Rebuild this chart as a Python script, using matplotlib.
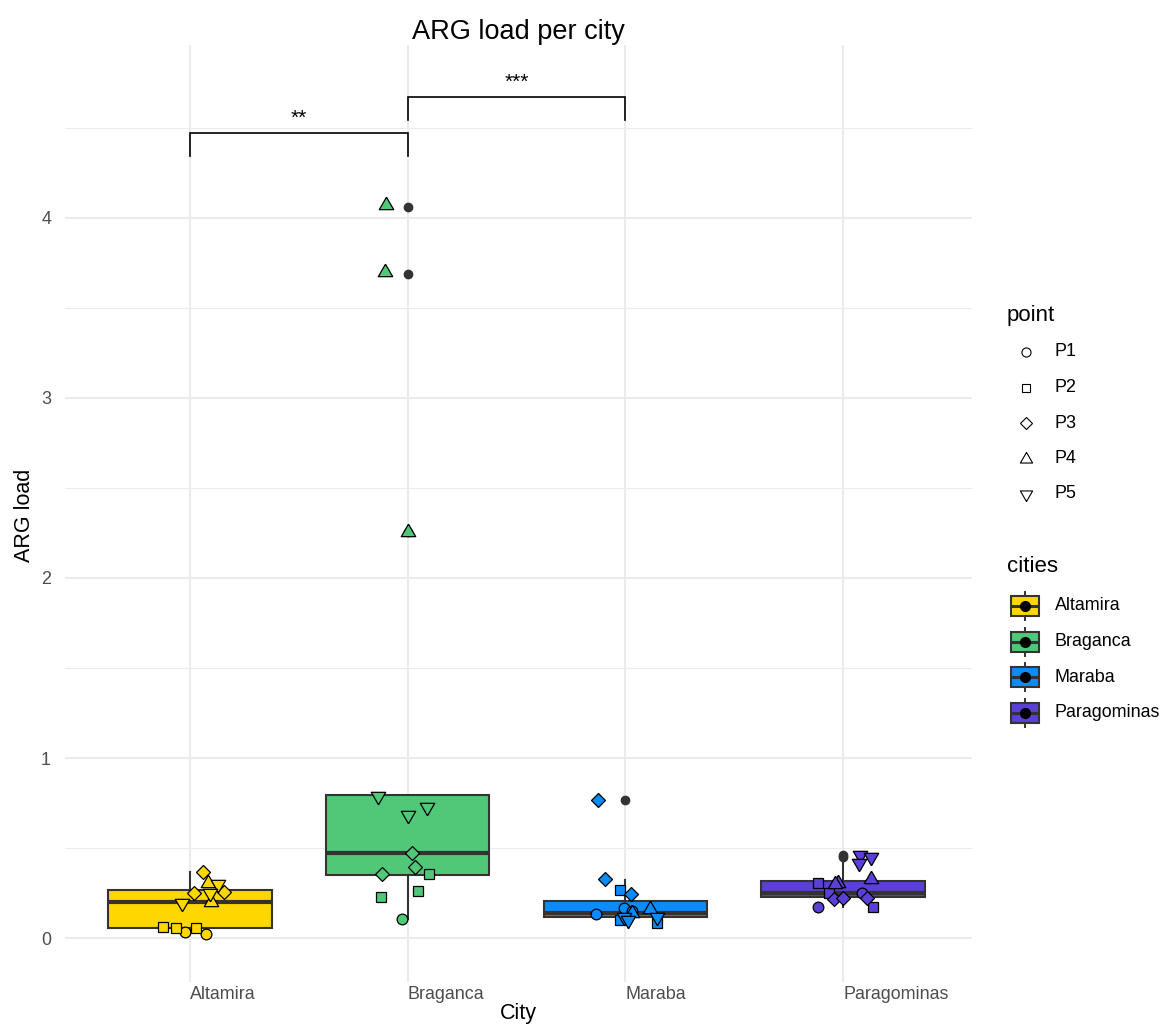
import matplotlib
matplotlib.use("Agg")
import matplotlib.pyplot as plt
from matplotlib.patches import Rectangle

plt.rcParams["font.family"] = ["Liberation Sans", "DejaVu Sans"]

# ---- data -------------------------------------------------------------
cities = ["Altamira", "Braganca", "Maraba", "Paragominas"]
city_colors = ["#FFD700", "#50C878", "#0A8CFF", "#5B3FD6"]
point_labels = ["P1", "P2", "P3", "P4", "P5"]

# boxplot summaries per city
box_whislo = [0.022, 0.106, 0.081, 0.174]
box_q1 = [0.056, 0.350, 0.117, 0.226]
box_med = [0.200, 0.470, 0.139, 0.252]
box_q3 = [0.267, 0.794, 0.205, 0.314]
box_whishi = [0.367, 0.794, 0.322, 0.415]
box_fliers = [[], [2.256, 3.69, 4.06], [0.767], [0.452, 0.461]]

# individual samples: city index, sampling point index, ARG load, jitter
obs_city = [0] * 13 + [1] * 13 + [2] * 14 + [3] * 14
obs_point = [
    0, 0, 1, 1, 1, 2, 2, 2, 3, 3, 4, 4, 4,
    0, 1, 1, 1, 2, 2, 2, 3, 3, 3, 4, 4, 4,
    0, 0, 0, 1, 1, 1, 2, 2, 2, 3, 3, 4, 4, 4,
    0, 0, 1, 1, 1, 2, 2, 2, 3, 3, 3, 4, 4, 4,
]
obs_value = [
    0.035, 0.022, 0.063, 0.055, 0.055, 0.368, 0.248, 0.257, 0.307, 0.200, 0.194, 0.300, 0.250,
    0.106, 0.354, 0.263, 0.230, 0.470, 0.396, 0.354, 4.070, 3.700, 2.256, 0.789, 0.730, 0.683,
    0.133, 0.165, 0.152, 0.267, 0.100, 0.081, 0.767, 0.326, 0.244, 0.159, 0.139, 0.118, 0.100, 0.118,
    0.170, 0.248, 0.304, 0.174, 0.248, 0.215, 0.220, 0.220, 0.326, 0.304, 0.298, 0.461, 0.452, 0.415,
]
obs_jitter = [
    -0.023, 0.072, -0.125, -0.064, 0.028, 0.058, 0.020, 0.156, 0.083, 0.096, -0.038, 0.127, 0.092,
    -0.024, 0.098, 0.049, -0.121, 0.020, 0.032, -0.118, -0.101, -0.106, 0.000, -0.136, 0.091, 0.001,
    -0.135, -0.008, 0.031, -0.023, -0.026, 0.146, -0.125, -0.095, 0.028, 0.112, 0.031, -0.008, 0.014, 0.146,
    -0.113, 0.086, -0.113, 0.139, -0.063, -0.040, 0.001, 0.112, 0.129, -0.022, -0.037, 0.078, 0.127, 0.074,
]

# significance brackets: (left city, right city, label, bracket height)
sig_pairs = [(0, 1), (1, 2)]
sig_labels = ["**", "***"]
sig_heights = [4.472, 4.672]

# ---- marker shapes (R-like filled shapes 21..25) ----------------------
tri_up = [(0, 1.555), (-1.347, -0.778), (1.347, -0.778), (0, 1.555)]
tri_dn = [(x, -y) for x, y in tri_up]
shape_markers = ["o", "s", "D", tri_up, tri_dn]
shape_sizes = [7.7, 6.9, 6.9, 12.0, 12.0]

EDGE = "#333333"

fig = plt.figure(figsize=(11.61, 10.28), dpi=100)
ax = fig.add_axes([65 / 1161, 46 / 1028, 907 / 1161, 937 / 1028])

# ---- boxes --------------------------------------------------------------
stats = []
for i in range(len(cities)):
    stats.append(dict(whislo=box_whislo[i], q1=box_q1[i], med=box_med[i],
                      q3=box_q3[i], whishi=box_whishi[i], fliers=box_fliers[i]))
positions = list(range(1, len(cities) + 1))
bp = ax.bxp(stats, positions=positions, widths=0.75, patch_artist=True,
            showcaps=False, manage_ticks=False,
            boxprops=dict(edgecolor=EDGE, linewidth=1.5),
            whiskerprops=dict(color=EDGE, linewidth=1.5),
            medianprops=dict(color=EDGE, linewidth=3.0, solid_capstyle="butt"),
            flierprops=dict(marker="o", markerfacecolor=EDGE, markeredgecolor=EDGE,
                            markersize=6.0, linestyle="none"))
for patch, col in zip(bp["boxes"], city_colors):
    patch.set_facecolor(col)
for art in bp["boxes"] + bp["medians"] + bp["whiskers"] + bp["fliers"]:
    art.set_zorder(2)

# ---- jittered samples --------------------------------------------------
for c, p, v, j in zip(obs_city, obs_point, obs_value, obs_jitter):
    ax.plot(c + 1 + j, v, linestyle="none", marker=shape_markers[p],
            markersize=shape_sizes[p], markerfacecolor=city_colors[c],
            markeredgecolor="black", markeredgewidth=0.9, zorder=3)

# ---- significance brackets -------------------------------------------
tip = 0.13
for (a, b), lab, h in zip(sig_pairs, sig_labels, sig_heights):
    xa, xb = a + 1, b + 1
    ax.plot([xa, xa, xb, xb], [h - tip, h, h, h - tip], color="black",
            linewidth=1.2, zorder=4, solid_joinstyle="miter")
    ax.text((xa + xb) / 2, h + 0.03, lab, ha="center", va="bottom",
            fontsize=15, color="black")

# ---- axes styling -------------------------------------------------------
ax.set_xlim(0.4257, 4.5924)
ax.set_ylim(-0.2444, 4.961)
ax.set_xticks(positions)
ax.set_xticklabels(cities, ha="left")
ax.set_yticks([0, 1, 2, 3, 4])
ax.set_yticks([0.5, 1.5, 2.5, 3.5, 4.5], minor=True)
ax.tick_params(axis="both", which="both", length=0, labelsize=12.9,
               labelcolor="#4D4D4D")
ax.tick_params(axis="x", pad=3)
ax.tick_params(axis="y", pad=10)
ax.grid(True, which="major", color="#EBEBEB", linewidth=1.5)
ax.grid(True, which="minor", axis="y", color="#EBEBEB", linewidth=0.8)
ax.set_axisbelow(True)
for s in ax.spines.values():
    s.set_visible(False)

ax.text(0.5, (983 - 33) / 937, "ARG load per city", transform=ax.transAxes,
        ha="center", va="center", fontsize=19.5, color="black")
ax.set_xlabel("City", fontsize=15.5, color="black")
ax.xaxis.set_label_coords(0.5, (983 - 1015) / 937)
ax.xaxis.label.set_va("center")
ax.set_ylabel("ARG load", fontsize=15.5, color="black")
ax.yaxis.set_label_coords((25 - 65) / 907, (983 - 516) / 937)
ax.yaxis.label.set_va("center")

# ---- legends (drawn in figure pixel space) ----------------------------
lg = fig.add_axes([0, 0, 1, 1], zorder=5)
lg.set_xlim(0, 1161)
lg.set_ylim(1028, 0)
lg.axis("off")
lg.patch.set_alpha(0)

lg.text(1007, 316, "point", ha="left", va="center", fontsize=16)
for k, lab in enumerate(point_labels):
    y = 352 + 35.5 * k
    lg.plot(1026, y, linestyle="none", marker=shape_markers[k],
            markersize=shape_sizes[k] * 0.85, markerfacecolor="none",
            markeredgecolor="black", markeredgewidth=0.8)
    lg.text(1055, y, lab, ha="left", va="center", fontsize=12.9)

lg.text(1007, 567, "cities", ha="left", va="center", fontsize=16)
for k, (lab, col) in enumerate(zip(cities, city_colors)):
    y = 606 + 35.5 * k
    lg.plot([1025, 1025], [y - 14, y + 14], color=EDGE, linewidth=1.4, zorder=1)
    lg.add_patch(Rectangle((1011, y - 10), 28, 20, facecolor=col,
                           edgecolor=EDGE, linewidth=1.5, zorder=2))
    lg.plot([1011, 1039], [y, y], color=EDGE, linewidth=2.2, zorder=3,
            solid_capstyle="butt")
    lg.plot(1025, y, marker="o", markersize=7, color="black", zorder=4)
    lg.text(1055, y, lab, ha="left", va="center", fontsize=12.9)

fig.savefig("out.png", dpi=100)
